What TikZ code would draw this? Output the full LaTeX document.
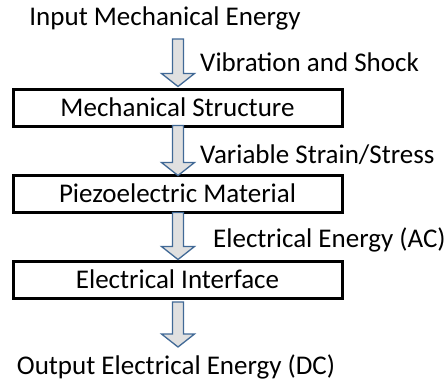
\documentclass[tikz,border=0pt]{standalone}
\usepackage{fontspec}
\setmainfont{Carlito}
\usetikzlibrary{calc}
\definecolor{arrowblue}{RGB}{65,105,150}

\begin{document}
\begin{tikzpicture}[
  x=1pt, y=-1pt,
  stage/.style={draw=black, line width=3pt, minimum width=329pt,
                minimum height=37pt, inner sep=0pt, font=\fontsize{27}{30}\selectfont},
  note/.style={font=\fontsize{27}{30}\selectfont, inner sep=0pt},
  hollow/.style={draw=arrowblue, fill=black!12, line width=1.3pt, line join=miter,
    to path={let \p1=(\tikztostart), \p2=(\tikztotarget) in
      (\x1-5.5pt,\y1) -- (\x1+5.5pt,\y1) -- (\x1+5.5pt,\y2+13pt)
      -- (\x1+16.5pt,\y2+13pt) -- (\x1,\y2) -- (\x1-16.5pt,\y2+13pt)
      -- (\x1-5.5pt,\y2+13pt) -- cycle}},
]
\useasboundingbox (0,0) rectangle (447,380);

% ---- energy in / out ----
\node[note] (input)  at (165,18)  {Input Mechanical Energy};
\node[note] (output) at (176,367) {Output Electrical Energy (DC)};

% ---- conversion stages ----
\node[stage] (mech)  at (177.5,107.5) {Mechanical Structure};
\node[stage] (piezo) at (177.5,193.5) {Piezoelectric Material};
\node[stage] (iface) at (177.5,279.5) {Electrical Interface};

% ---- hollow flow arrows ----
\coordinate (a0) at (178,39);
\coordinate (a4) at (178,302);
\coordinate (b4) at (178,347);
\draw[hollow] (a0) to ([xshift=0.5pt,yshift=1pt]mech.north);
\draw[hollow] ([xshift=0.5pt,yshift=2pt]mech.south) to ([xshift=0.5pt,yshift=-2pt]piezo.north);
\draw[hollow] ([xshift=0.5pt,yshift=1pt]piezo.south) to ([xshift=0.5pt]iface.north);
\draw[hollow] (a4) to (b4);

% ---- side labels ----
\node[note, anchor=west] (vib)    at (200,62)  {Vibration and Shock};
\node[note, anchor=west] (strain) at (200,155) {Variable Strain/Stress};
\node[note, anchor=west] (ac)     at (213,240) {Electrical Energy (AC)};

\end{tikzpicture}
\end{document}
